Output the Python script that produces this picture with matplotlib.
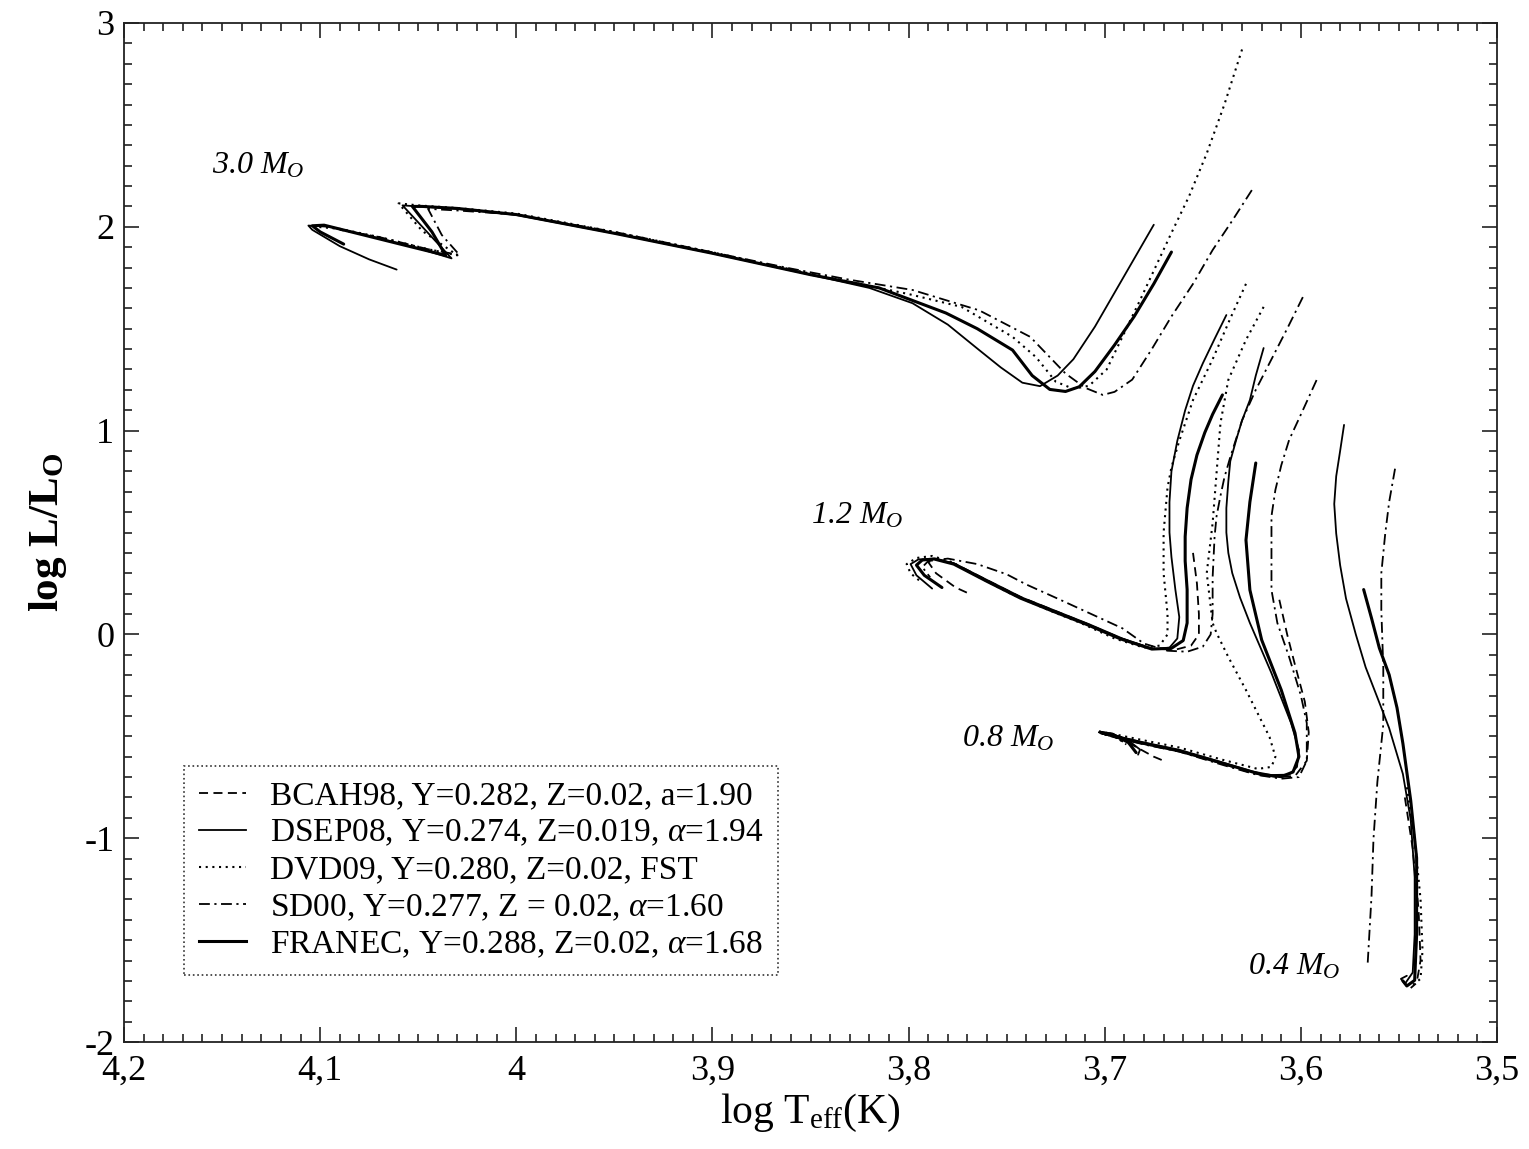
import matplotlib
matplotlib.use("Agg")
import matplotlib.pyplot as plt
from matplotlib.lines import Line2D
from matplotlib.ticker import MultipleLocator, FuncFormatter

plt.rcParams['font.family'] = ['Liberation Serif', 'DejaVu Serif']
plt.rcParams['mathtext.fontset'] = 'custom'
plt.rcParams['mathtext.rm'] = 'Liberation Serif'
plt.rcParams['mathtext.it'] = 'Liberation Serif:italic'
plt.rcParams['mathtext.bf'] = 'Liberation Serif:bold'

# ---------------- data: (log Teff, log L/Lsun) ----------------
# 3.0 Msun
dsep08_30 = [(3.675, 2.01), (3.690, 1.76), (3.705, 1.51), (3.716, 1.35), (3.724, 1.27), (3.733, 1.218),
             (3.742, 1.235), (3.753, 1.31), (3.764, 1.395), (3.780, 1.52), (3.798, 1.625), (3.820, 1.70),
             (3.850, 1.765), (3.900, 1.870), (3.950, 1.968), (4.000, 2.058), (4.030, 2.088), (4.050, 2.100),
             (4.058, 2.105), (4.046, 1.980), (4.033, 1.845), (4.050, 1.895), (4.075, 1.955), (4.095, 2.000),
             (4.106, 2.006), (4.104, 1.985), (4.090, 1.905), (4.075, 1.840), (4.061, 1.790)]
franec_30 = [(3.666, 1.876), (3.675, 1.72), (3.685, 1.56), (3.695, 1.42), (3.705, 1.29), (3.713, 1.215),
             (3.720, 1.192), (3.728, 1.202), (3.737, 1.27), (3.747, 1.395), (3.765, 1.50), (3.781, 1.577),
             (3.815, 1.700), (3.850, 1.765), (3.900, 1.870), (3.950, 1.968), (4.000, 2.060), (4.030, 2.090),
             (4.048, 2.100), (4.053, 2.100), (4.043, 1.975), (4.036, 1.860), (4.055, 1.905), (4.080, 1.965),
             (4.098, 2.008), (4.104, 2.005), (4.100, 1.975), (4.088, 1.915)]
dvd09_30 = [(3.630, 2.87), (3.639, 2.60), (3.648, 2.36), (3.657, 2.15), (3.666, 1.97), (3.682, 1.64),
            (3.699, 1.30), (3.708, 1.22), (3.716, 1.205), (3.725, 1.24), (3.735, 1.36), (3.747, 1.46),
            (3.773, 1.607), (3.800, 1.67), (3.820, 1.71), (3.850, 1.77), (3.900, 1.875), (3.950, 1.975),
            (4.000, 2.065), (4.030, 2.092), (4.050, 2.105), (4.060, 2.115), (4.048, 1.980), (4.030, 1.860),
            (4.045, 1.890), (4.070, 1.950), (4.090, 1.990), (4.102, 2.000)]
sd00_30 = [(3.625, 2.18), (3.635, 2.03), (3.645, 1.886), (3.655, 1.72), (3.666, 1.56), (3.676, 1.40),
           (3.686, 1.25), (3.695, 1.19), (3.701, 1.175), (3.710, 1.21), (3.720, 1.28), (3.738, 1.46),
           (3.764, 1.59), (3.798, 1.69), (3.830, 1.74), (3.860, 1.795), (3.900, 1.875), (3.950, 1.975),
           (4.000, 2.060), (4.030, 2.080), (4.045, 2.088), (4.038, 1.960), (4.029, 1.862), (4.045, 1.890),
           (4.070, 1.950), (4.090, 1.985)]

# 1.2 Msun
bcah98_12 = [(3.655, 0.40), (3.653, 0.25), (3.652, 0.10), (3.652, 0.00), (3.656, -0.055), (3.664, -0.075),
             (3.676, -0.070), (3.692, -0.018), (3.709, 0.052), (3.726, 0.118), (3.743, 0.184), (3.760, 0.266),
             (3.777, 0.350), (3.786, 0.368), (3.790, 0.355), (3.786, 0.300), (3.776, 0.230), (3.768, 0.195)]
dsep08_12 = [(3.638, 1.567), (3.644, 1.45), (3.650, 1.33), (3.655, 1.22), (3.659, 1.10), (3.663, 0.95),
             (3.666, 0.80), (3.667, 0.65), (3.667, 0.50), (3.666, 0.38), (3.664, 0.22), (3.662, 0.085),
             (3.663, -0.02), (3.667, -0.065), (3.675, -0.072), (3.691, -0.020), (3.708, 0.050), (3.725, 0.115),
             (3.742, 0.180), (3.759, 0.262), (3.776, 0.345), (3.786, 0.372), (3.795, 0.368), (3.799, 0.345),
             (3.796, 0.290), (3.788, 0.225)]
dvd09_12 = [(3.628, 1.72), (3.636, 1.55), (3.645, 1.35), (3.655, 1.15), (3.662, 0.95), (3.666, 0.82),
            (3.668, 0.72), (3.670, 0.50), (3.670, 0.30), (3.668, 0.10), (3.668, 0.00), (3.672, -0.055),
            (3.680, -0.065), (3.695, -0.020), (3.712, 0.055), (3.730, 0.125), (3.748, 0.200), (3.765, 0.285),
            (3.778, 0.355), (3.788, 0.385), (3.796, 0.375), (3.801, 0.345), (3.799, 0.300), (3.794, 0.260)]
sd00_12 = [(3.599, 1.655), (3.607, 1.50), (3.615, 1.35), (3.623, 1.20), (3.630, 1.05), (3.636, 0.87),
           (3.639, 0.77), (3.641, 0.68), (3.643, 0.58), (3.644, 0.48), (3.645, 0.28), (3.645, 0.10),
           (3.646, 0.00), (3.650, -0.060), (3.658, -0.085), (3.668, -0.080), (3.680, -0.045), (3.691, 0.030),
           (3.708, 0.105), (3.725, 0.180), (3.740, 0.245), (3.750, 0.295), (3.765, 0.345), (3.780, 0.372),
           (3.790, 0.360), (3.793, 0.330), (3.789, 0.280)]
franec_12 = [(3.640, 1.175), (3.645, 1.08), (3.649, 0.99), (3.653, 0.88), (3.656, 0.76), (3.658, 0.62),
             (3.659, 0.48), (3.659, 0.36), (3.658, 0.22), (3.658, 0.056), (3.660, -0.030), (3.666, -0.068),
             (3.676, -0.072), (3.692, -0.022), (3.709, 0.048), (3.726, 0.112), (3.743, 0.178), (3.760, 0.260),
             (3.777, 0.345), (3.787, 0.370), (3.793, 0.365), (3.796, 0.340), (3.792, 0.290), (3.783, 0.230)]

# 0.8 Msun
bcah98_08 = [(3.611, 0.170), (3.607, 0.000), (3.603, -0.150), (3.598, -0.330), (3.596, -0.480), (3.597, -0.620),
             (3.603, -0.695), (3.612, -0.700), (3.625, -0.680), (3.640, -0.635), (3.660, -0.577), (3.680, -0.537),
             (3.695, -0.503), (3.700, -0.490), (3.692, -0.510), (3.675, -0.600), (3.670, -0.620)]
dsep08_08 = [(3.619, 1.405), (3.623, 1.27), (3.626, 1.15), (3.630, 1.05), (3.633, 0.954), (3.636, 0.85),
             (3.637, 0.75), (3.638, 0.62), (3.638, 0.50), (3.637, 0.40), (3.635, 0.301), (3.631, 0.18),
             (3.626, 0.056), (3.615, -0.190), (3.605, -0.435), (3.601, -0.567), (3.602, -0.650), (3.606, -0.688),
             (3.615, -0.690), (3.625, -0.672), (3.640, -0.628), (3.662, -0.566), (3.680, -0.530), (3.695, -0.497),
             (3.703, -0.480), (3.697, -0.485), (3.688, -0.520), (3.682, -0.565), (3.683, -0.590)]
dvd09_08 = [(3.619, 1.607), (3.628, 1.445), (3.637, 1.249), (3.641, 1.037), (3.643, 0.792), (3.645, 0.546),
            (3.648, 0.301), (3.645, 0.056), (3.643, 0.007), (3.637, -0.111), (3.628, -0.273), (3.616, -0.503),
            (3.613, -0.600), (3.615, -0.650), (3.622, -0.660), (3.640, -0.615), (3.662, -0.555), (3.680, -0.520),
            (3.695, -0.490), (3.703, -0.475), (3.697, -0.490), (3.690, -0.530)]
sd00_08 = [(3.592, 1.248), (3.599, 1.10), (3.606, 0.954), (3.610, 0.83), (3.613, 0.709), (3.615, 0.58),
           (3.615, 0.463), (3.615, 0.218), (3.612, 0.056), (3.606, -0.111), (3.600, -0.300), (3.597, -0.435),
           (3.597, -0.620), (3.601, -0.700), (3.610, -0.708), (3.622, -0.690), (3.640, -0.640), (3.662, -0.575),
           (3.680, -0.540), (3.695, -0.505), (3.701, -0.488), (3.695, -0.500), (3.689, -0.540)]
franec_08 = [(3.623, 0.841), (3.626, 0.65), (3.628, 0.463), (3.626, 0.218), (3.620, -0.027), (3.610, -0.273),
             (3.603, -0.484), (3.601, -0.600), (3.604, -0.675), (3.610, -0.698), (3.620, -0.688), (3.637, -0.640),
             (3.662, -0.572), (3.680, -0.535), (3.695, -0.500), (3.702, -0.482), (3.696, -0.490), (3.688, -0.530),
             (3.684, -0.580)]

# 0.4 Msun
bcah98_04 = [(3.547, -0.80), (3.543, -1.05), (3.540, -1.35), (3.539, -1.60), (3.541, -1.71), (3.544, -1.735)]
dsep08_04 = [(3.578, 1.028), (3.580, 0.90), (3.582, 0.776), (3.583, 0.64), (3.582, 0.495), (3.580, 0.34),
             (3.577, 0.176), (3.572, 0.00), (3.567, -0.161), (3.561, -0.31), (3.555, -0.460), (3.548, -0.685),
             (3.544, -0.910), (3.542, -1.191), (3.542, -1.472), (3.543, -1.659), (3.547, -1.715),
             (3.549, -1.690), (3.546, -1.675)]
dvd09_04 = [(3.546, -0.75), (3.542, -1.00), (3.539, -1.30), (3.538, -1.55), (3.539, -1.69), (3.543, -1.72)]
sd00_04 = [(3.552, 0.813), (3.555, 0.65), (3.557, 0.495), (3.559, 0.30), (3.559, 0.120), (3.558, -0.161),
           (3.558, -0.442), (3.561, -0.723), (3.563, -1.004), (3.564, -1.285), (3.566, -1.622)]
franec_04 = [(3.568, 0.220), (3.564, 0.080), (3.560, -0.067), (3.555, -0.198), (3.551, -0.36), (3.548, -0.535),
             (3.544, -0.816), (3.541, -1.097), (3.541, -1.472), (3.542, -1.697), (3.546, -1.725), (3.548, -1.700)]

models = ["BCAH98, Y=0.282, Z=0.02, a=1.90",
          r"DSEP08, Y=0.274, Z=0.019, $\alpha$=1.94",
          "DVD09, Y=0.280, Z=0.02, FST",
          r"SD00, Y=0.277, Z = 0.02, $\alpha$=1.60",
          r"FRANEC, Y=0.288, Z=0.02, $\alpha$=1.68"]
mass_labels = ["3.0", "1.2", "0.8", "0.4"]
mass_label_pos = [(4.155, 2.30), (3.850, 0.58), (3.773, -0.51), (3.627, -1.63)]

tracks = {
    0: [bcah98_12, bcah98_08, bcah98_04],
    1: [dsep08_30, dsep08_12, dsep08_08, dsep08_04],
    2: [dvd09_30, dvd09_12, dvd09_08, dvd09_04],
    3: [sd00_30, sd00_12, sd00_08, sd00_04],
    4: [franec_30, franec_12, franec_08, franec_04],
}
styles = {
    0: dict(ls=(0, (5, 3)), lw=1.3),
    1: dict(ls='-', lw=1.3),
    2: dict(ls=(0, (1, 2.2)), lw=1.5),
    3: dict(ls=(0, (6, 2.5, 1.2, 2.5)), lw=1.3),
    4: dict(ls='-', lw=2.2),
}

# ---------------- figure ----------------
fig = plt.figure(figsize=(15.29, 11.49), dpi=100)
ax = fig.add_axes([0.0811, 0.0931, 0.8980, 0.8869])

for k in range(5):
    for tr in tracks[k]:
        xs = [p[0] for p in tr]
        ys = [p[1] for p in tr]
        ax.plot(xs, ys, color='black', solid_joinstyle='round', solid_capstyle='round', **styles[k])

ax.set_xlim(4.2, 3.5)
ax.set_ylim(-2, 3)

ax.xaxis.set_major_locator(MultipleLocator(0.1))
ax.xaxis.set_minor_locator(MultipleLocator(0.01))
ax.yaxis.set_major_locator(MultipleLocator(1))
ax.yaxis.set_minor_locator(MultipleLocator(0.1))


def fmt(v, pos):
    s = "%g" % round(v, 3)
    return s.replace('.', ',')


ax.xaxis.set_major_formatter(FuncFormatter(fmt))
ax.yaxis.set_major_formatter(FuncFormatter(lambda v, p: "%d" % round(v)))

ax.tick_params(which='both', direction='in', top=True, right=True, width=1.2, colors='#222222')
ax.tick_params(which='major', length=11, labelsize=26, labelcolor='black')
ax.tick_params(axis='x', which='major', pad=9)
ax.tick_params(axis='y', which='major', pad=7)
ax.tick_params(which='minor', length=5.5)
for sp in ax.spines.values():
    sp.set_linewidth(1.3)
    sp.set_color('#222222')

ax.set_xlabel(r"log T$_{\mathrm{eff}}$(K)", fontsize=30, labelpad=3)
ax.set_ylabel(r"log L/L$_{\mathbf{O}}$", fontsize=31, fontweight='bold')
ax.yaxis.set_label_coords(-0.040, 0.5)

for lab, (tx, ty) in zip(mass_labels, mass_label_pos):
    ax.text(tx, ty, lab + r" M$_{\mathit{O}}$", fontsize=23, style='italic', ha='left', va='center')

handles = [Line2D([0], [0], color='black', **styles[k]) for k in range(5)]
leg = ax.legend(handles, models, loc='lower left', bbox_to_anchor=(0.0437, 0.0658),
                fontsize=24, frameon=True, fancybox=False, handlelength=1.4,
                handletextpad=0.72, borderpad=0.45, labelspacing=0.2, borderaxespad=0)
fr = leg.get_frame()
fr.set_edgecolor('black')
fr.set_linestyle(':')
fr.set_linewidth(1.2)

fig.savefig("out.png", dpi=100)
